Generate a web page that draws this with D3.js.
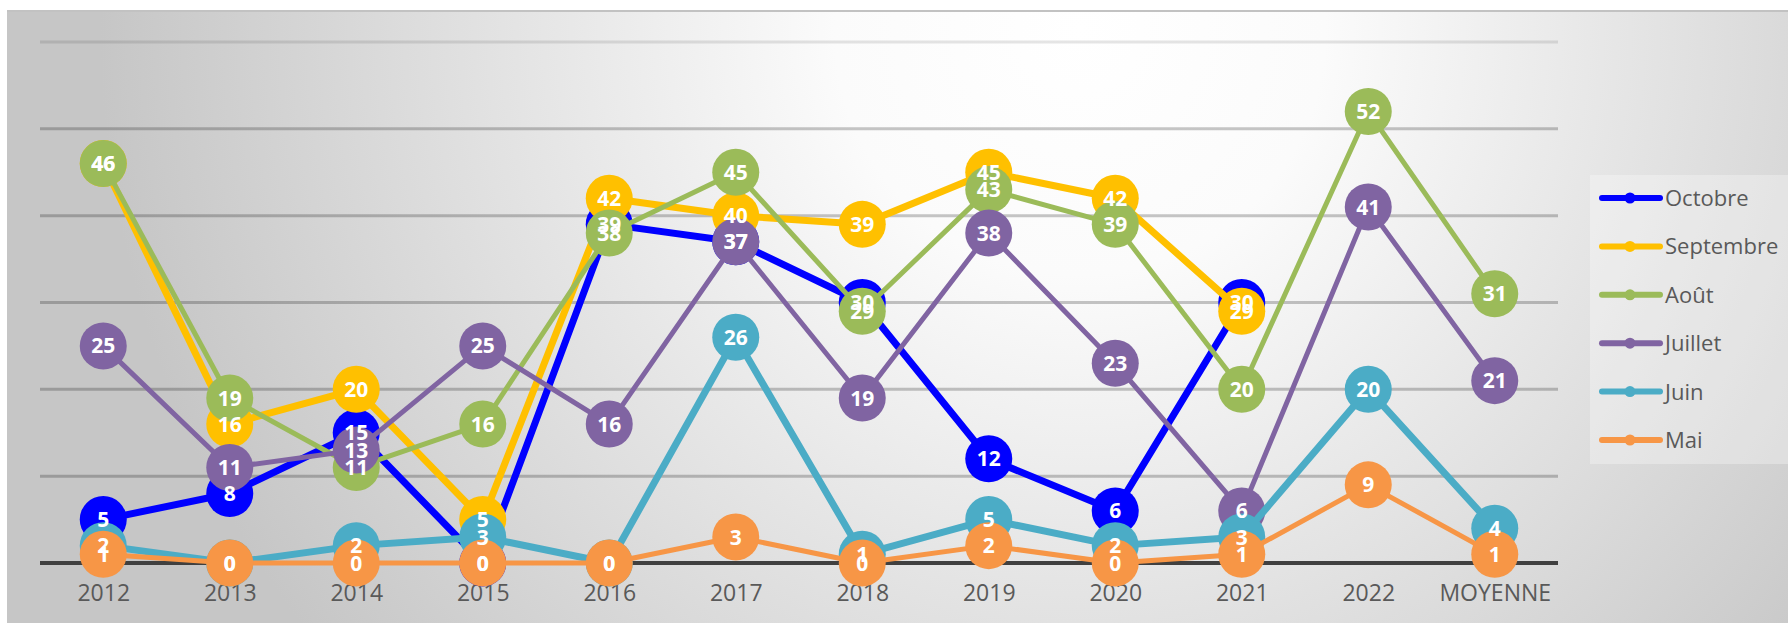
<!DOCTYPE html>
<html>
<head>
<meta charset="utf-8">
<script src="https://cdn.jsdelivr.net/npm/d3@7"></script>
<style>
  body { margin: 0; background: #ffffff; }
  svg { display: block; }
</style>
</head>
<body>
<div id="chart"></div>
<script>
// categories (x axis)
const years = ["2012", "2013", "2014", "2015", "2016", "2017", "2018", "2019", "2020", "2021", "2022", "MOYENNE"];
const y_ticks = [0, 10, 20, 30, 40, 50, 60];

// one array per month, null = no value
const octobre = [5, 8, 15, 0, 39, 37, 30, 12, 6, 30, null, null];
const septembre = [46, 16, 20, 5, 42, 40, 39, 45, 42, 29, null, null];
const aout = [46, 19, 11, 16, 38, 45, 29, 43, 39, 20, 52, 31];
const juillet = [25, 11, 13, 25, 16, 37, 19, 38, 23, 6, 41, 21];
const juin = [2, 0, 2, 3, 0, 26, 1, 5, 2, 3, 20, 4];
const mai = [1, 0, 0, 0, 0, 3, 0, 2, 0, 1, 9, 1];

const series_names = ["Octobre", "Septembre", "Août", "Juillet", "Juin", "Mai"];
const series_values = [octobre, septembre, aout, juillet, juin, mai];
const series_colors = ["#0000ff", "#ffc000", "#9bbb59", "#8064a2", "#4bacc6", "#f79646"];
const series_widths = [7, 7, 5, 5, 7, 5];

const width = 1788;
const height = 623;
const margins = [42, 230, 60, 40]; //top, right, bottom, left
const marker_r = 23.5;

const svg = d3
  .select("#chart")
  .append("svg")
  .attr("width", width)
  .attr("height", height);

function drawBackground() {
  const defs = svg.append("defs");
  const grad = defs
    .append("radialGradient")
    .attr("id", "bg_grad")
    .attr("gradientUnits", "userSpaceOnUse")
    .attr("cx", 1080)
    .attr("cy", 30)
    .attr("r", 980);
  grad.append("stop").attr("offset", "0%").attr("stop-color", "#ffffff");
  grad.append("stop").attr("offset", "25%").attr("stop-color", "#fbfbfb");
  grad.append("stop").attr("offset", "100%").attr("stop-color", "#c6c6c6");

  svg
    .append("rect")
    .attr("x", 7)
    .attr("y", 10)
    .attr("width", width)
    .attr("height", height)
    .attr("fill", "url(#bg_grad)");

  svg
    .append("line")
    .attr("x1", 7)
    .attr("x2", width)
    .attr("y1", 11)
    .attr("y2", 11)
    .attr("stroke", "#c2c2c2")
    .attr("stroke-width", 2);
}

drawBackground();

const [margin_top, margin_right, margin_bottom, margin_left] = margins;

const x_axis = d3
  .scalePoint()
  .domain(years)
  .range([margin_left, width - margin_right])
  .padding(0.5);

const y_axis = d3
  .scaleLinear()
  .domain([0, 60])
  .range([height - margin_bottom, margin_top]);

// gridlines
svg
  .append("g")
  .selectAll("line")
  .data(y_ticks.filter((d) => d > 0))
  .join("line")
  .attr("x1", margin_left)
  .attr("x2", width - margin_right)
  .attr("y1", (d) => y_axis(d))
  .attr("y2", (d) => y_axis(d))
  .attr("stroke", "#000000")
  .attr("stroke-opacity", (d) => (d == 60 ? 0.1 : 0.22))
  .attr("stroke-width", 3);

// x axis
const x_g = svg
  .append("g")
  .attr("transform", `translate(0,${y_axis(0)})`)
  .call(d3.axisBottom(x_axis).tickSize(0).tickPadding(22));
x_g.select(".domain").remove();
x_g
  .selectAll("text")
  .attr("font-family", "Open Sans")
  .attr("font-size", 23)
  .attr("fill", "#595959");

svg
  .append("line")
  .attr("x1", margin_left)
  .attr("x2", width - margin_right)
  .attr("y1", y_axis(0))
  .attr("y2", y_axis(0))
  .attr("stroke", "#404040")
  .attr("stroke-width", 4);

// lines + markers, one series after the other
const line = d3
  .line()
  .defined((d) => d != null)
  .x((d, i) => x_axis(years[i]))
  .y((d) => y_axis(d));

series_values.forEach((values, s) => {
  const g = svg.append("g").attr("class", "series");
  g.append("path")
    .datum(values)
    .attr("fill", "none")
    .attr("stroke", series_colors[s])
    .attr("stroke-width", series_widths[s])
    .attr("stroke-linejoin", "round")
    .attr("d", line);

  g.selectAll("circle")
    .data(values.map((v, i) => [years[i], v]).filter(([k, v]) => v != null))
    .join("circle")
    .attr("cx", ([k, v]) => x_axis(k))
    .attr("cy", ([k, v]) => y_axis(v))
    .attr("r", marker_r)
    .attr("fill", series_colors[s]);
});

// data labels on top of everything
series_values.forEach((values, s) => {
  svg
    .append("g")
    .selectAll("text")
    .data(values.map((v, i) => [years[i], v]).filter(([k, v]) => v != null))
    .join("text")
    .attr("x", ([k, v]) => x_axis(k))
    .attr("y", ([k, v]) => y_axis(v))
    .attr("dy", "0.36em")
    .attr("text-anchor", "middle")
    .attr("font-family", "Open Sans")
    .attr("font-weight", "bold")
    .attr("font-size", 21)
    .attr("fill", "#ffffff")
    .text(([k, v]) => v);
});

// legend
function drawLegend() {
  const lg = svg.append("g").attr("transform", "translate(1590,175)");
  lg.append("rect")
    .attr("width", 210)
    .attr("height", 289)
    .attr("fill", "#ffffff")
    .attr("fill-opacity", 0.3);

  const item = lg
    .selectAll("g")
    .data(series_names)
    .join("g")
    .attr("transform", (d, i) => `translate(0,${23 + i * 48.4})`);

  item
    .append("line")
    .attr("x1", 12)
    .attr("x2", 70)
    .attr("stroke", (d, i) => series_colors[i])
    .attr("stroke-width", 6)
    .attr("stroke-linecap", "round");

  item
    .append("circle")
    .attr("cx", 40)
    .attr("r", 5.5)
    .attr("fill", (d, i) => series_colors[i]);

  item
    .append("text")
    .attr("x", 75)
    .attr("dy", "0.36em")
    .attr("font-family", "Open Sans")
    .attr("font-size", 22)
    .attr("fill", "#595959")
    .text((d) => d);
}

drawLegend();
</script>
</body>
</html>
